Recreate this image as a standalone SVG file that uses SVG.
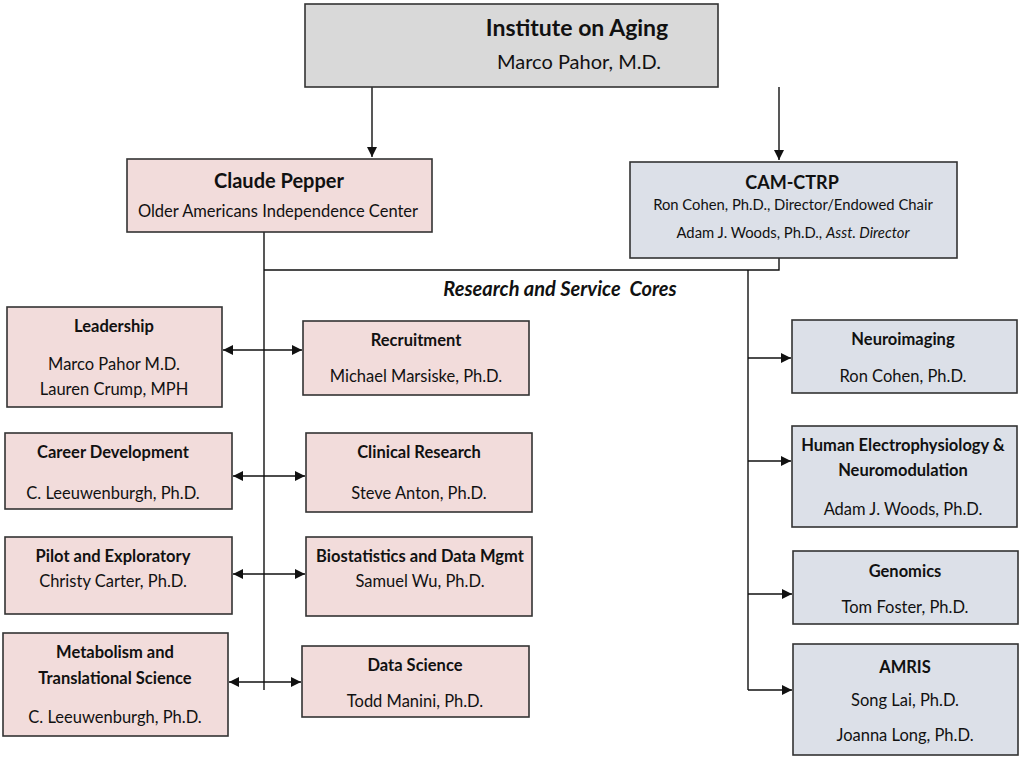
<svg xmlns="http://www.w3.org/2000/svg" width="1019" height="757" viewBox="0 0 1019 757">
<defs>
<marker id="ah" viewBox="0 0 10 10" refX="10" refY="5" markerWidth="11" markerHeight="10" markerUnits="userSpaceOnUse" orient="auto-start-reverse"><path d="M0,0 L10,5 L0,10 z" fill="#111"/></marker>
<style>
.box{stroke:#333;stroke-width:1.6}
.g{fill:#d9d9d9}.p{fill:#f2dcdb}.b{fill:#dce0e8}
text{font-family:Lato,"Liberation Sans",sans-serif;fill:#111;text-anchor:middle}
.t{font-weight:bold;font-size:16.5px}
.n{font-size:16.5px}
.ln{stroke:#111;stroke-width:1.4;fill:none}
</style>
</defs>
<rect width="1019" height="757" fill="#fff"/>
<g id="connectors">
<line class="ln" x1="372" y1="87" x2="372" y2="157" marker-end="url(#ah)"/>
<line class="ln" x1="779" y1="87" x2="779" y2="160" marker-end="url(#ah)"/>
<polyline class="ln" points="264,232 264,690"/>
<polyline class="ln" points="264,270 779,270 779,258"/>
<polyline class="ln" points="748,270 748,690"/>
<line class="ln" x1="223" y1="350" x2="302" y2="350" marker-start="url(#ah)" marker-end="url(#ah)"/>
<line class="ln" x1="233" y1="476" x2="305" y2="476" marker-start="url(#ah)" marker-end="url(#ah)"/>
<line class="ln" x1="233" y1="574" x2="305" y2="574" marker-start="url(#ah)" marker-end="url(#ah)"/>
<line class="ln" x1="229" y1="682" x2="301" y2="682" marker-start="url(#ah)" marker-end="url(#ah)"/>
<line class="ln" x1="748" y1="358" x2="791" y2="358" marker-end="url(#ah)"/>
<line class="ln" x1="748" y1="461" x2="791" y2="461" marker-end="url(#ah)"/>
<line class="ln" x1="748" y1="594" x2="792" y2="594" marker-end="url(#ah)"/>
<line class="ln" x1="748" y1="690" x2="792" y2="690" marker-end="url(#ah)"/>
</g>
<text x="560" y="296" xml:space="preserve" style="font-weight:bold;font-style:italic;font-size:20px">Research and Service  Cores</text>
<g id="institute"><rect class="box g" x="305" y="4" width="413" height="83"/>
<text x="577" y="36" style="font-weight:bold;font-size:23px">Institute on Aging</text>
<text x="579" y="69" style="font-size:20px">Marco Pahor, M.D.</text></g>
<g id="pepper"><rect class="box p" x="127" y="159" width="305" height="73"/>
<text x="279" y="188" style="font-weight:bold;font-size:20px">Claude Pepper</text>
<text x="278" y="217" style="font-size:16.5px">Older Americans Independence Center</text></g>
<g id="camctrp"><rect class="box b" x="630" y="162" width="327" height="96"/>
<text x="792" y="189" style="font-weight:bold;font-size:18px">CAM-CTRP</text>
<text x="793" y="210" style="font-size:14.8px">Ron Cohen, Ph.D., Director/Endowed Chair</text>
<text x="793" y="238" style="font-size:14.8px">Adam J. Woods, Ph.D., <tspan font-style="italic">Asst. Director</tspan></text></g>
<g id="leadership"><rect class="box p" x="7" y="307" width="215" height="100"/>
<text class="t" x="114" y="332">Leadership</text>
<text class="n" x="114" y="370">Marco Pahor M.D.</text>
<text class="n" x="114" y="395">Lauren Crump, MPH</text></g>
<g id="recruitment"><rect class="box p" x="303" y="321" width="226" height="74"/>
<text class="t" x="416" y="346">Recruitment</text>
<text class="n" x="416" y="382">Michael Marsiske, Ph.D.</text></g>
<g id="career"><rect class="box p" x="5" y="433" width="227" height="76"/>
<text class="t" x="113" y="458">Career Development</text>
<text class="n" x="113" y="499">C. Leeuwenburgh, Ph.D.</text></g>
<g id="clinical"><rect class="box p" x="306" y="433" width="226" height="79"/>
<text class="t" x="419" y="458">Clinical Research</text>
<text class="n" x="419" y="499">Steve Anton, Ph.D.</text></g>
<g id="pilot"><rect class="box p" x="5" y="537" width="227" height="77"/>
<text class="t" x="113" y="562">Pilot and Exploratory</text>
<text class="n" x="113" y="587">Christy Carter, Ph.D.</text></g>
<g id="biostat"><rect class="box p" x="306" y="537" width="226" height="79"/>
<text class="t" x="420" y="562">Biostatistics and Data Mgmt</text>
<text class="n" x="420" y="587">Samuel Wu, Ph.D.</text></g>
<g id="metabolism"><rect class="box p" x="3" y="633" width="225" height="103"/>
<text class="t" x="115" y="658">Metabolism and</text>
<text class="t" x="115" y="684">Translational Science</text>
<text class="n" x="115" y="723">C. Leeuwenburgh, Ph.D.</text></g>
<g id="datascience"><rect class="box p" x="302" y="646" width="227" height="71"/>
<text class="t" x="415" y="671">Data Science</text>
<text class="n" x="415" y="707">Todd Manini, Ph.D.</text></g>
<g id="neuroimaging"><rect class="box b" x="792" y="320" width="225" height="73"/>
<text class="t" x="903" y="345">Neuroimaging</text>
<text class="n" x="903" y="382">Ron Cohen, Ph.D.</text></g>
<g id="electro"><rect class="box b" x="792" y="426" width="225" height="101"/>
<text class="t" x="903" y="451">Human Electrophysiology &amp;</text>
<text class="t" x="903" y="476">Neuromodulation</text>
<text class="n" x="903" y="515">Adam J. Woods, Ph.D.</text></g>
<g id="genomics"><rect class="box b" x="793" y="551" width="225" height="73"/>
<text class="t" x="905" y="577">Genomics</text>
<text class="n" x="905" y="613">Tom Foster, Ph.D.</text></g>
<g id="amris"><rect class="box b" x="793" y="644" width="225" height="111"/>
<text class="t" x="905" y="673">AMRIS</text>
<text class="n" x="905" y="706">Song Lai, Ph.D.</text>
<text class="n" x="905" y="741">Joanna Long, Ph.D.</text></g>
</svg>
